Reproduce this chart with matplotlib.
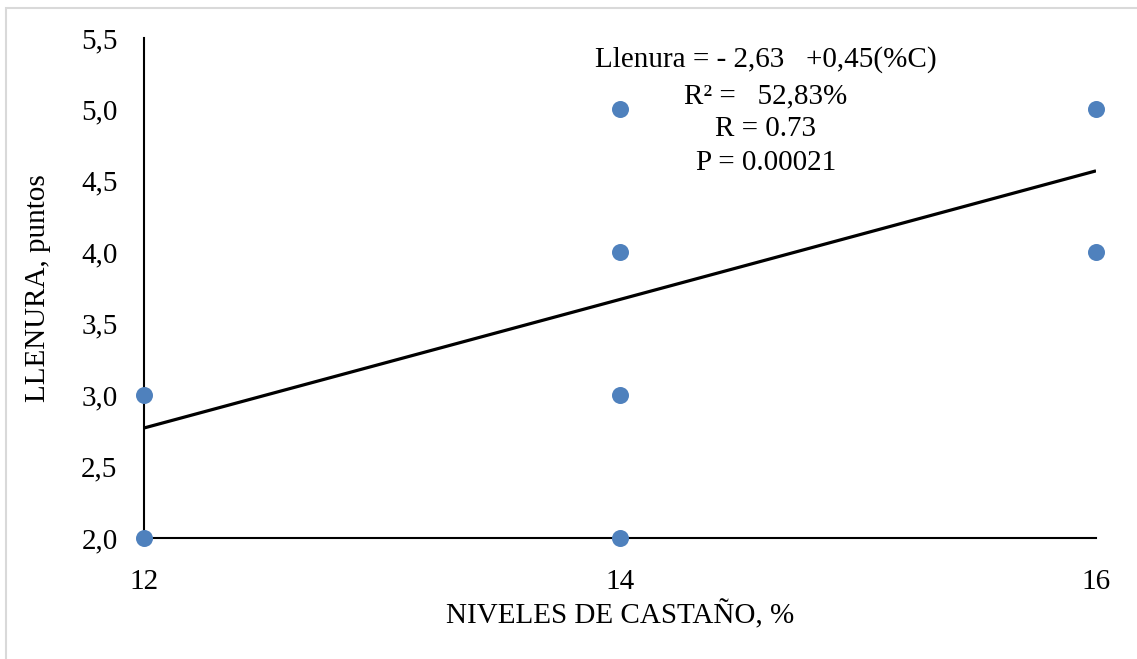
import matplotlib
matplotlib.use("Agg")
import matplotlib.pyplot as plt
import numpy as np
from matplotlib.patches import Rectangle

# Data
castano = [12, 12, 14, 14, 14, 14, 16, 16]
llenura = [3.0, 2.0, 5.0, 4.0, 3.0, 2.0, 5.0, 4.0]
intercept = -2.63
slope = 0.45
x_ticks = [12, 14, 16]
y_ticks = [2.0, 2.5, 3.0, 3.5, 4.0, 4.5, 5.0, 5.5]
annot_lines = ["Llenura = - 2,63   +0,45(%C)", "R² =   52,83%", "R = 0.73", "P = 0.00021"]

plt.rcParams['font.family'] = ['Liberation Serif', 'DejaVu Serif']

W, H = 1137, 659
fig = plt.figure(figsize=(W / 100, H / 100), dpi=100)
ax = fig.add_axes([144 / W, 1 - 538 / H, (1096 - 144) / W, (538 - 38) / H])

# figure border
fig.patches.append(Rectangle((6 / W, 0 - 0.01), 1.1, 1 - 8 / H + 0.01, transform=fig.transFigure,
                             fill=False, edgecolor='#d9d9d9', linewidth=1.5))

ax.scatter(castano, llenura, s=150, color='#4F81BD', zorder=5, clip_on=False, linewidths=0)
xl = np.array([min(x_ticks), max(x_ticks)])
ax.plot(xl, intercept + slope * xl, color='black', linewidth=2.3, zorder=4, solid_capstyle='butt')

ax.set_xlim(12, 16)
ax.set_ylim(2.0, 5.5)
ax.set_xticks(x_ticks)
ax.set_xticklabels([str(v) for v in x_ticks])
ax.set_yticks(y_ticks)
ax.set_yticklabels([f"{v:.1f}".replace('.', ',') for v in y_ticks])
ax.tick_params(axis='both', length=0, labelsize=21)
ax.tick_params(axis='y', pad=19)
ax.tick_params(axis='x', pad=22)

for s in ['top', 'right']:
    ax.spines[s].set_visible(False)
for s in ['left', 'bottom']:
    ax.spines[s].set_linewidth(1.5)
    ax.spines[s].set_color('black')

ax.set_xlabel("NIVELES DE CASTAÑO, %", fontsize=21, labelpad=4)
ax.set_ylabel("LLENURA, puntos", fontsize=21, labelpad=22)

ys = [0.956, 0.884, 0.818, 0.751]
for t, y in zip(annot_lines, ys):
    ax.text(0.653, y, t, transform=ax.transAxes, ha='center', va='center', fontsize=21)

fig.savefig("out.png", dpi=100)
